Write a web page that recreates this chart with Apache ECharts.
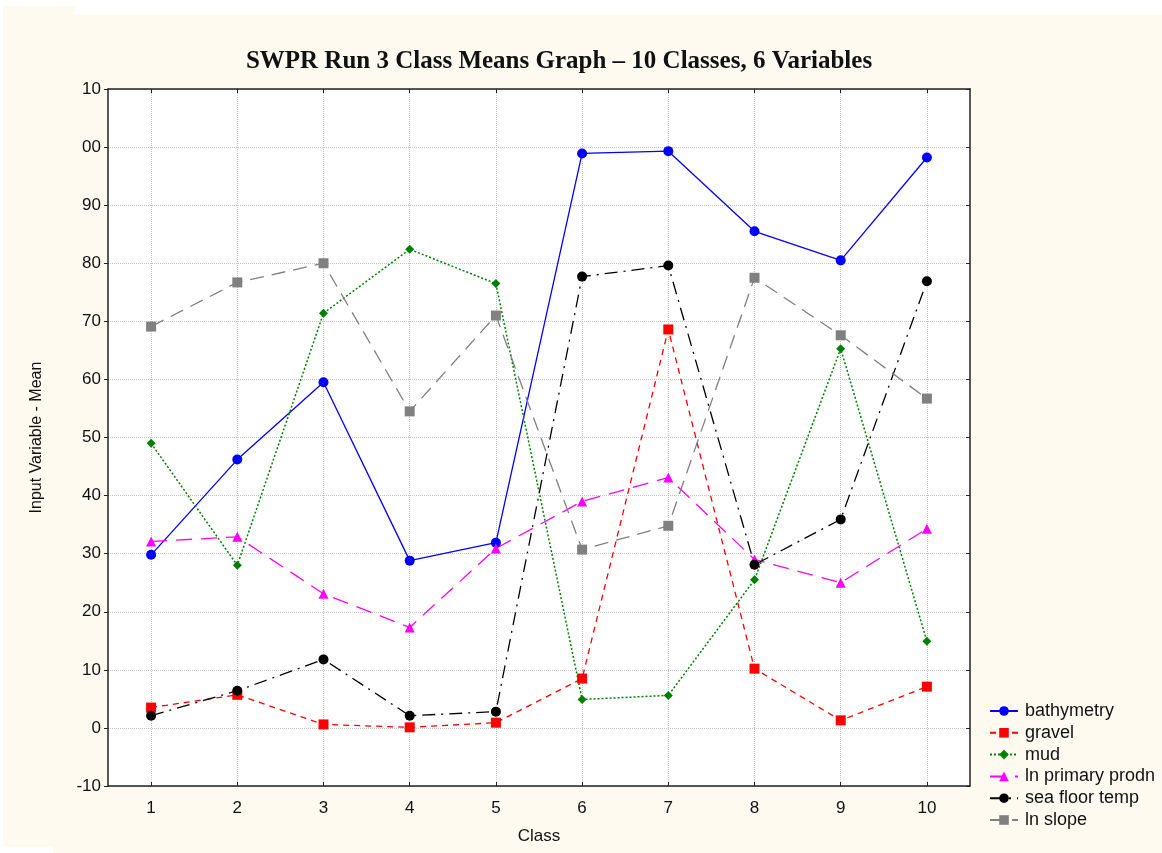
<!DOCTYPE html>
<html>
<head>
<meta charset="utf-8">
<script src="https://cdn.jsdelivr.net/npm/echarts@6/dist/echarts.min.js"></script>
<style>html,body{margin:0;padding:0;background:#fff;}#c{width:1162px;height:853px;}</style>
</head>
<body>
<div id="c"></div>
<script>
const classes = ['1','2','3','4','5','6','7','8','9','10'];
const bathymetry = [29.8, 46.2, 59.5, 28.8, 31.9, 98.9, 99.3, 85.5, 80.5, 98.2];
const gravel = [3.5, 5.7, 0.6, 0.1, 0.9, 8.5, 68.6, 10.2, 1.3, 7.1];
const mud = [49.0, 28.0, 71.4, 82.4, 76.5, 4.9, 5.6, 25.5, 65.3, 14.9];
const lnPrimaryProdn = [32.1, 32.9, 23.1, 17.3, 30.9, 39.0, 43.1, 29.0, 25.0, 34.3];
const seaFloorTemp = [2.1, 6.4, 11.8, 2.1, 2.8, 77.7, 79.6, 28.1, 35.9, 76.9];
const lnSlope = [69.1, 76.7, 80.0, 54.5, 71.0, 30.7, 34.8, 77.5, 67.6, 56.7];
const seriesNames = ['bathymetry','gravel','mud','ln primary prodn','sea floor temp','ln slope'];

const chart = echarts.init(document.getElementById('c'));
const cream = '#fefaf0';
const sans = 'Liberation Sans';

function mk(name, data, color, symbol, size, ltype, width){
  return {
    name: name, type: 'line', data: data,
    xAxisIndex: 0, yAxisIndex: 0,
    symbol: symbol, symbolSize: size,
    itemStyle: {color: color},
    lineStyle: {color: color, type: ltype, width: width},
    emphasis: {disabled: true},
    z: 3
  };
}

chart.setOption({
  animation: false,
  backgroundColor: '#ffffff',
  graphic: [
    {type:'rect', z:-10, shape:{x:3, y:6, width:72, height:841}, style:{fill:cream}},
    {type:'rect', z:-10, shape:{x:75, y:15, width:1087, height:838}, style:{fill:cream}},
    {type:'rect', z:-10, shape:{x:53, y:840, width:22, height:13}, style:{fill:cream}}
  ],
  title: {
    text: 'SWPR Run 3 Class Means Graph \u2013 10 Classes, 6 Variables',
    left: 554, top: 44, textAlign: 'center',
    textStyle: {fontFamily: 'Liberation Serif', fontWeight: 'bold', fontSize: 25, color: '#111'}
  },
  legend: {
    orient: 'vertical', left: 984, top: 697,
    itemWidth: 28, itemHeight: 12, itemGap: 3.8,
    textStyle: {fontFamily: sans, fontSize: 18, lineHeight: 18, color: '#111', padding: [0,0,0,2]},
    data: seriesNames
  },
  grid: {left: 108, top: 89, right: 192, bottom: 67, show: true, backgroundColor: '#ffffff', borderWidth: 0},
  xAxis: [
    {
      type: 'category', data: classes, boundaryGap: true, position: 'bottom',
      name: 'Class', nameLocation: 'middle', nameGap: 42,
      nameTextStyle: {fontFamily: sans, fontSize: 17, color: '#111'},
      axisLine: {onZero: false, lineStyle: {color: '#222', width: 1.5}},
      axisTick: {show: true, inside: true, alignWithLabel: true, length: 4, lineStyle: {color: '#222'}},
      axisLabel: {fontFamily: sans, fontSize: 17, color: '#111', margin: 14},
      splitLine: {show: true, alignWithLabel: true, lineStyle: {color: '#c4c4c4', type: 'dotted', width: 1}}
    },
    {
      type: 'category', data: classes, boundaryGap: true, position: 'top',
      axisLine: {onZero: false, lineStyle: {color: '#222', width: 1.5}},
      axisTick: {show: true, inside: true, alignWithLabel: true, length: 4, lineStyle: {color: '#222'}},
      axisLabel: {show: false},
      splitLine: {show: false}
    }
  ],
  yAxis: [
    {
      type: 'value', min: -10, max: 110, interval: 10, position: 'left',
      name: 'Input Variable - Mean', nameLocation: 'middle', nameGap: 63, nameRotate: 90,
      nameTextStyle: {fontFamily: sans, fontSize: 16, color: '#111'},
      axisLine: {show: true, onZero: false, lineStyle: {color: '#222', width: 1.5}},
      axisTick: {show: true, inside: false, length: 4, lineStyle: {color: '#222'}},
      axisLabel: {fontFamily: sans, fontSize: 17, color: '#111', margin: 7,
        formatter: function(v){ if (v === 110) return '10'; if (v === 100) return '00'; return String(v); }},
      splitLine: {show: true, lineStyle: {color: '#c4c4c4', type: 'dotted', width: 1}}
    },
    {
      type: 'value', min: -10, max: 110, interval: 10, position: 'right',
      axisLine: {show: true, onZero: false, lineStyle: {color: '#222', width: 1.5}},
      axisTick: {show: true, inside: true, length: 4, lineStyle: {color: '#222'}},
      axisLabel: {show: false},
      splitLine: {show: false}
    }
  ],
  series: [
    mk('bathymetry', bathymetry, '#0000ff', 'circle', 10, 'solid', 1.3),
    mk('gravel', gravel, '#ff0000', 'rect', 10, [6, 5], 1.3),
    mk('mud', mud, '#008000', 'diamond', 9, [2, 2], 1.5),
    mk('ln primary prodn', lnPrimaryProdn, '#ff00ff', 'triangle', 10, [16, 9], 1.3),
    mk('sea floor temp', seaFloorTemp, '#000000', 'circle', 10, [13, 6, 2, 6], 1.3),
    mk('ln slope', lnSlope, '#808080', 'rect', 10, [14, 8], 1.3)
  ]
});
</script>
</body>
</html>
